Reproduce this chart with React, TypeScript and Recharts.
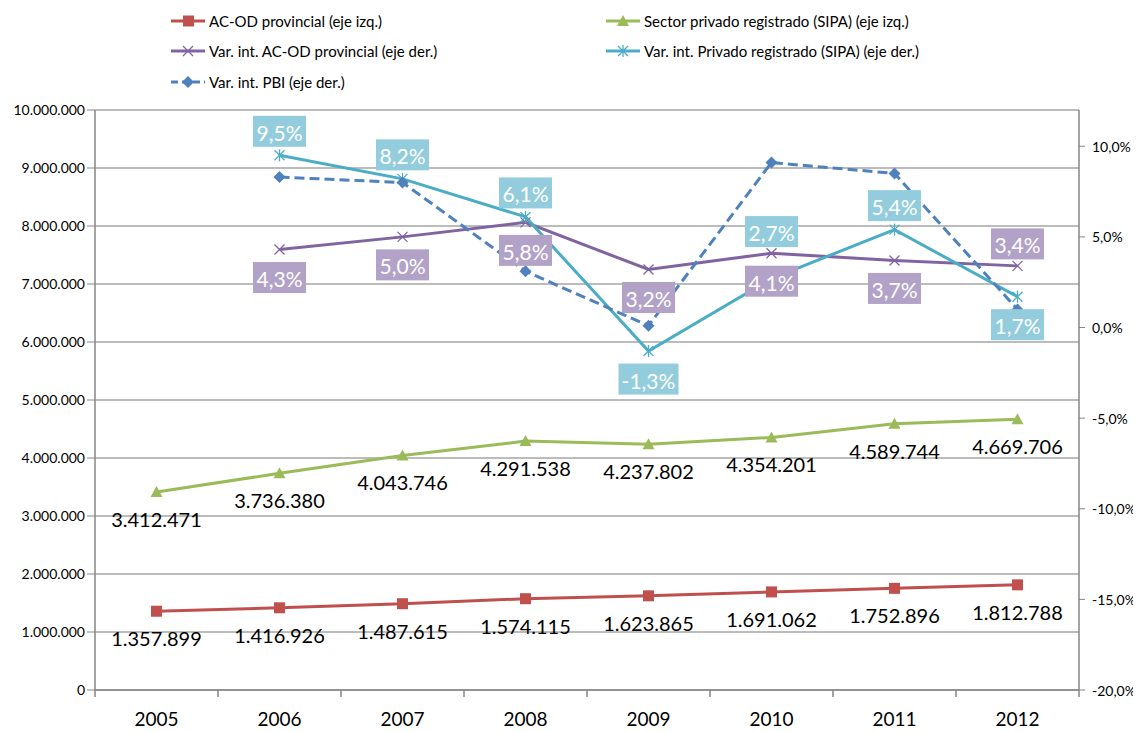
import React from 'react';
import { ComposedChart, Line, XAxis, YAxis, CartesianGrid, LabelList } from 'recharts';

const years = ['2005', '2006', '2007', '2008', '2009', '2010', '2011', '2012'];
const acodProvincial = [1357899, 1416926, 1487615, 1574115, 1623865, 1691062, 1752896, 1812788];
const sipaPrivado = [3412471, 3736380, 4043746, 4291538, 4237802, 4354201, 4589744, 4669706];
const varAcod = [null, 4.3, 5.0, 5.8, 3.2, 4.1, 3.7, 3.4];
const varSipa = [null, 9.5, 8.2, 6.1, -1.3, 2.7, 5.4, 1.7];
const varPbi = [null, 8.3, 8.0, 3.1, 0.1, 9.1, 8.5, 1.0];
const leftTicks = [0, 1000000, 2000000, 3000000, 4000000, 5000000, 6000000, 7000000, 8000000, 9000000, 10000000];
const rightTicks = [-20, -15, -10, -5, 0, 5, 10];

const data = years.map((y, i) => ({
  year: y,
  acod: acodProvincial[i],
  sipa: sipaPrivado[i],
  vAcod: varAcod[i],
  vSipa: varSipa[i],
  vPbi: varPbi[i],
}));

const FONT = 'Lato, "Open Sans", sans-serif';
const RED = '#c0504d';
const GREEN = '#9bbb59';
const PURPLE = '#8064a2';
const CYAN = '#4bacc6';
const BLUE = '#4f81bd';
const PURPLE_BOX = '#b3a2c7';
const CYAN_BOX = '#93cddd';

const W = 1133;
const H = 724;
const MARGIN = { top: 102, right: 12, bottom: 12, left: 7 };
const LEFT_W = 80;
const RIGHT_W = 50;
const PLOT_W = W - MARGIN.left - MARGIN.right - LEFT_W - RIGHT_W;
const BAND = PLOT_W / years.length;

const fmtThousands = (n: number) => String(n).replace(/\B(?=(\d{3})+(?!\d))/g, '.');
const fmtPct = (n: number) => n.toFixed(1).replace('.', ',') + '%';

const SquareDot = (p: any) => {
  if (p.cx == null || p.cy == null) return null;
  return <rect x={p.cx - 5.5} y={p.cy - 5.5} width={11} height={11} fill={RED} />;
};
const TriDot = (p: any) => {
  if (p.cx == null || p.cy == null) return null;
  const { cx, cy } = p;
  return <polygon points={`${cx},${cy - 6} ${cx + 6},${cy + 5} ${cx - 6},${cy + 5}`} fill={GREEN} />;
};
const XDot = (p: any) => {
  if (p.cx == null || p.cy == null || p.value == null) return null;
  const { cx, cy } = p;
  return (
    <g stroke={PURPLE} strokeWidth={1.3}>
      <line x1={cx - 5} y1={cy - 5} x2={cx + 5} y2={cy + 5} />
      <line x1={cx - 5} y1={cy + 5} x2={cx + 5} y2={cy - 5} />
    </g>
  );
};
const StarDot = (p: any) => {
  if (p.cx == null || p.cy == null || p.value == null) return null;
  const { cx, cy } = p;
  return (
    <g stroke={CYAN} strokeWidth={1.3}>
      <line x1={cx - 5} y1={cy - 5} x2={cx + 5} y2={cy + 5} />
      <line x1={cx - 5} y1={cy + 5} x2={cx + 5} y2={cy - 5} />
      <line x1={cx} y1={cy - 6} x2={cx} y2={cy + 6} />
    </g>
  );
};
const DiamondDot = (p: any) => {
  if (p.cx == null || p.cy == null || p.value == null) return null;
  const { cx, cy } = p;
  return <polygon points={`${cx},${cy - 6} ${cx + 6},${cy} ${cx},${cy + 6} ${cx - 6},${cy}`} fill={BLUE} />;
};

const NumLabel = (p: any) => {
  const { x, y, value } = p;
  if (value == null) return null;
  return (
    <text x={x} y={y + 27} textAnchor="middle" dominantBaseline="central" fontFamily={FONT} fontSize={20} fill="#000">
      {fmtThousands(value)}
    </text>
  );
};

const acodPlace: Record<number, number> = { 7: -22 };
const sipaPlace: Record<number, number> = { 4: 28, 5: -47, 7: 28 };

const makeBoxLabel = (bg: string, place: Record<number, number>, def: number) => (p: any) => {
  const { x, y, value, index } = p;
  if (value == null) return null;
  const off = place[index] != null ? place[index] : def;
  const txt = fmtPct(value);
  const w = txt.length > 4 ? 60 : 53;
  const h = 31;
  const cy = y + off;
  return (
    <g>
      <rect x={x - w / 2} y={cy - h / 2} width={w} height={h} fill={bg} />
      <text x={x} y={cy + 1} textAnchor="middle" dominantBaseline="central" fontFamily={FONT} fontSize={21} fill="#fff">
        {txt}
      </text>
    </g>
  );
};
const AcodBox = makeBoxLabel(PURPLE_BOX, acodPlace, 28);
const SipaBox = makeBoxLabel(CYAN_BOX, sipaPlace, -24);

const XTick = (p: any) => {
  const { x, y, payload, index } = p;
  const top = y - 10;
  return (
    <g>
      <line x1={x - BAND / 2} y1={top} x2={x - BAND / 2} y2={top + 7} stroke="#868686" strokeWidth={1.5} />
      {index === years.length - 1 && (
        <line x1={x + BAND / 2} y1={top} x2={x + BAND / 2} y2={top + 7} stroke="#868686" strokeWidth={1.5} />
      )}
      <text x={x} y={top + 28} textAnchor="middle" dominantBaseline="central" fontFamily={FONT} fontSize={19} fill="#000">
        {payload.value}
      </text>
    </g>
  );
};

const RightTick = (p: any) => {
  const { x, y, payload } = p;
  return (
    <text x={x + 5} y={y} textAnchor="start" dominantBaseline="central" fontFamily={FONT} fontSize={14} fill="#000">
      {fmtPct(payload.value)}
    </text>
  );
};

const LegendIcon = ({ kind }: { kind: string }) => {
  const c = kind === 'sq' ? RED : kind === 'tri' ? GREEN : kind === 'x' ? PURPLE : kind === 'star' ? CYAN : BLUE;
  return (
    <svg width={36} height={14} style={{ display: 'inline-block', verticalAlign: 'middle', marginRight: 3 }}>
      <line x1={1} y1={7} x2={35} y2={7} stroke={c} strokeWidth={3} strokeDasharray={kind === 'dia' ? '7 4' : undefined} />
      {kind === 'sq' && <rect x={13} y={1.5} width={11} height={11} fill={c} />}
      {kind === 'tri' && <polygon points="18,1 24,12 12,12" fill={c} />}
      {kind === 'x' && (
        <g stroke={c} strokeWidth={1.3}>
          <line x1={13} y1={2} x2={23} y2={12} />
          <line x1={13} y1={12} x2={23} y2={2} />
        </g>
      )}
      {kind === 'star' && (
        <g stroke={c} strokeWidth={1.3}>
          <line x1={13} y1={2} x2={23} y2={12} />
          <line x1={13} y1={12} x2={23} y2={2} />
          <line x1={18} y1={1} x2={18} y2={13} />
        </g>
      )}
      {kind === 'dia' && <polygon points="18,1 24,7 18,13 12,7" fill={c} />}
    </svg>
  );
};

const legendItems = [
  { label: 'AC-OD provincial (eje izq.)', kind: 'sq', left: 162, top: 0 },
  { label: 'Sector privado registrado (SIPA) (eje izq.)', kind: 'tri', left: 597, top: 0 },
  { label: 'Var. int. AC-OD provincial (eje der.)', kind: 'x', left: 162, top: 30 },
  { label: 'Var. int. Privado registrado (SIPA) (eje der.)', kind: 'star', left: 597, top: 30 },
  { label: 'Var. int. PBI (eje der.)', kind: 'dia', left: 162, top: 61 },
];

export default function App() {
  return (
    <div style={{ position: 'relative', width: W, height: H }}>
      {legendItems.map((it) => (
        <div
          key={it.label}
          style={{
            position: 'absolute',
            left: it.left,
            top: it.top,
            height: 22,
            lineHeight: '22px',
            fontFamily: FONT,
            fontSize: 15,
            color: '#000',
            whiteSpace: 'nowrap',
          }}
        >
          <LegendIcon kind={it.kind} />
          <span style={{ verticalAlign: 'middle' }}>{it.label}</span>
        </div>
      ))}
      <ComposedChart width={W} height={H} data={data} margin={MARGIN}>
        <CartesianGrid yAxisId="left" horizontal vertical={false} stroke="#a6a6a6" strokeWidth={1.5} />
        <XAxis
          dataKey="year"
          xAxisId={0}
          padding={{ left: BAND / 2, right: BAND / 2 }}
          axisLine={{ stroke: '#868686', strokeWidth: 1.5 }}
          tickLine={false}
          tickSize={8}
          tick={<XTick />}
          height={30}
          interval={0}
        />
        <YAxis
          yAxisId="left"
          orientation="left"
          width={LEFT_W}
          domain={[0, 10000000]}
          ticks={leftTicks}
          interval={0}
          tickFormatter={(v: number) => fmtThousands(v)}
          axisLine={{ stroke: '#868686', strokeWidth: 1.5 }}
          tickLine={{ stroke: '#868686' }}
          tickSize={8}
          tick={{ fontFamily: FONT, fontSize: 14, fill: '#000' }}
        />
        <YAxis
          yAxisId="right"
          orientation="right"
          width={RIGHT_W}
          domain={[-20, 12]}
          ticks={rightTicks}
          interval={0}
          axisLine={{ stroke: '#868686', strokeWidth: 1.5 }}
          tickLine={{ stroke: '#868686' }}
          tickSize={6}
          tick={<RightTick />}
        />
        <Line yAxisId="left" dataKey="acod" stroke={RED} strokeWidth={3} dot={<SquareDot />} activeDot={false} isAnimationActive={false}>
          <LabelList dataKey="acod" content={<NumLabel />} />
        </Line>
        <Line yAxisId="left" dataKey="sipa" stroke={GREEN} strokeWidth={3} dot={<TriDot />} activeDot={false} isAnimationActive={false}>
          <LabelList dataKey="sipa" content={<NumLabel />} />
        </Line>
        <Line yAxisId="right" dataKey="vAcod" stroke={PURPLE} strokeWidth={3} dot={<XDot />} activeDot={false} isAnimationActive={false} />
        <Line yAxisId="right" dataKey="vSipa" stroke={CYAN} strokeWidth={3} dot={<StarDot />} activeDot={false} isAnimationActive={false} />
        <Line yAxisId="right" dataKey="vPbi" stroke={BLUE} strokeWidth={3} strokeDasharray="10 5" dot={<DiamondDot />} activeDot={false} isAnimationActive={false} />
        <Line yAxisId="right" dataKey="vAcod" stroke="none" dot={false} activeDot={false} legendType="none" isAnimationActive={false}>
          <LabelList dataKey="vAcod" content={<AcodBox />} />
        </Line>
        <Line yAxisId="right" dataKey="vSipa" stroke="none" dot={false} activeDot={false} legendType="none" isAnimationActive={false}>
          <LabelList dataKey="vSipa" content={<SipaBox />} />
        </Line>
      </ComposedChart>
    </div>
  );
}
